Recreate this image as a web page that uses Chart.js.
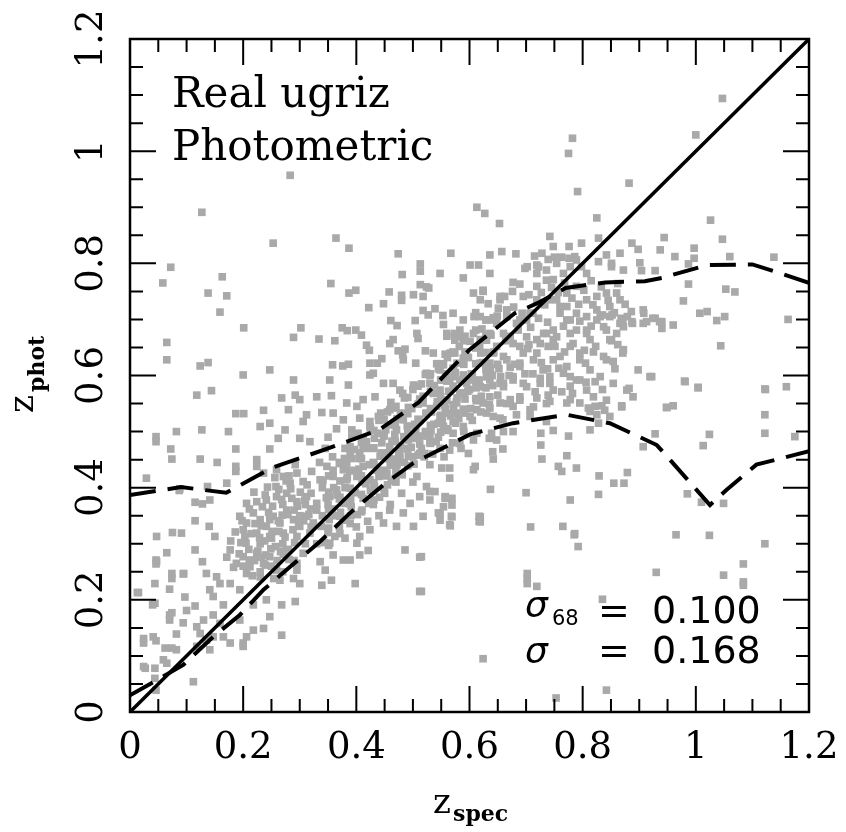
<!DOCTYPE html>
<html>
<head>
<meta charset="utf-8">
<script src="https://cdn.jsdelivr.net/npm/chart.js@4.4.1/dist/chart.umd.min.js"></script>
<style>
  html, body { margin: 0; padding: 0; background: #fff; }
  #wrap { width: 846px; height: 832px; }
</style>
</head>
<body>
<div id="wrap"><canvas id="c"></canvas></div>
<script>
// ---- data (z_spec, z_phot) ----
const tickLabels = ['0', '0.2', '0.4', '0.6', '0.8', '1', '1.2'];
const minorTicks = [0.05,0.1,0.15,0.25,0.3,0.35,0.45,0.5,0.55,0.65,0.7,0.75,0.85,0.9,0.95,1.05,1.1,1.15];
const majorTicks = [0.2,0.4,0.6,0.8,1.0];

// 1:1 line
const diagX = [0, 1.2];
const diagY = [0, 1.2];

// upper 68% envelope (dashed)
const upperX = [0, 0.09, 0.17, 0.25, 0.35, 0.44, 0.51, 0.565, 0.60, 0.68, 0.72, 0.77, 0.84, 0.91, 0.94, 1.02, 1.10, 1.15, 1.2];
const upperY = [0.387, 0.401, 0.391, 0.435, 0.470, 0.503, 0.552, 0.610, 0.646, 0.711, 0.729, 0.756, 0.766, 0.768, 0.774, 0.797, 0.798, 0.782, 0.765];

// lower 68% envelope (dashed)
const lowerX = [0, 0.041, 0.094, 0.147, 0.194, 0.236, 0.283, 0.336, 0.389, 0.448, 0.501, 0.601, 0.677, 0.772, 0.848, 0.931, 0.954, 1.025, 1.054, 1.107, 1.2];
const lowerY = [0.030, 0.053, 0.084, 0.134, 0.173, 0.218, 0.259, 0.304, 0.355, 0.405, 0.444, 0.495, 0.515, 0.530, 0.515, 0.476, 0.450, 0.369, 0.396, 0.441, 0.465];

// galaxies, [z_spec, z_phot]
const galaxies = [
  [0.127,0.891],[0.253,0.836],[0.364,0.845],[0.387,0.827],[0.474,0.817],[0.567,0.818],[0.072,0.793],[0.058,0.765],
  [0.163,0.776],[0.138,0.747],[0.171,0.742],[0.159,0.713],[0.201,0.685],[0.355,0.764],[0.387,0.747],[0.399,0.752],
  [0.481,0.780],[0.513,0.799],[0.513,0.786],[0.589,0.774],[0.422,0.721],[0.448,0.728],[0.458,0.749],[0.480,0.743],
  [0.480,0.734],[0.501,0.744],[0.513,0.762],[0.528,0.756],[0.518,0.741],[0.518,0.716],[0.527,0.708],[0.539,0.719],
  [0.553,0.707],[0.554,0.691],[0.504,0.698],[0.461,0.698],[0.472,0.689],[0.289,0.668],[0.302,0.685],[0.334,0.665],
  [0.362,0.662],[0.375,0.685],[0.384,0.680],[0.399,0.681],[0.409,0.672],[0.418,0.654],[0.423,0.645],[0.065,0.659],
  [0.065,0.628],[0.124,0.617],[0.138,0.623],[0.358,0.619],[0.376,0.617],[0.386,0.620],[0.424,0.622],[0.437,0.622],
  [0.445,0.630],[0.459,0.657],[0.465,0.664],[0.474,0.644],[0.486,0.647],[0.482,0.637],[0.483,0.628],[0.507,0.675],
  [0.509,0.666],[0.522,0.644],[0.505,0.622],[0.557,0.638],[0.560,0.670],[0.574,0.675],[0.583,0.681],[0.592,0.670],
  [0.574,0.663],[0.554,0.619],[0.574,0.640],[0.283,0.957],
  [1.047,1.094],[1.000,1.029],[0.782,1.023],[0.775,0.996],[0.882,0.943],[0.791,0.928],[0.613,0.900],[0.627,0.889],
  [0.653,0.871],[0.825,0.881],[1.026,0.877],[0.944,0.846],[1.047,0.843],[0.742,0.848],[0.828,0.845],
  [0.636,0.815],[0.657,0.821],[0.682,0.817],[0.748,0.830],[0.750,0.811],[0.763,0.811],[0.715,0.813],[0.728,0.818],
  [0.776,0.830],[0.798,0.836],[0.786,0.812],[0.776,0.809],[0.842,0.815],[0.851,0.800],[0.866,0.818],[0.887,0.836],
  [0.898,0.825],[0.901,0.801],[0.937,0.824],[0.963,0.812],[0.997,0.827],[0.997,0.809],[1.060,0.812],[1.138,0.811],
  [0.702,0.794],[0.722,0.794],[0.739,0.807],[0.851,0.794],[0.872,0.788],[0.904,0.787],[0.928,0.787],[0.987,0.799],
  [0.828,0.803],[0.789,0.806],[0.778,0.794],
  [0.987,0.763],[1.053,0.754],[1.069,0.749],[0.978,0.733],[1.007,0.711],[1.020,0.714],[1.037,0.698],[1.051,0.705],
  [1.163,0.700],[1.044,0.653],[0.980,0.590],[1.004,0.578],[1.123,0.575],[1.160,0.580],[0.898,0.610],[0.919,0.598],
  [0.882,0.577],[0.949,0.543],[0.960,0.546],[1.122,0.530],[0.869,0.544],
  [0.835,0.708],[0.852,0.708],[0.868,0.702],[0.886,0.714],[0.908,0.711],[0.913,0.696],[0.924,0.702],[0.936,0.696],
  [0.888,0.693],[0.871,0.693],[0.851,0.662],[0.819,0.642],[0.842,0.628],[0.854,0.625],[0.871,0.640],
  [0.601,0.797],[0.616,0.797],[0.636,0.782],[0.698,0.791],[0.719,0.797],[0.736,0.788],[0.754,0.800],[0.719,0.782],
  [0.748,0.771],[0.766,0.782],[0.677,0.766],[0.689,0.763],[0.676,0.750],[0.624,0.750],[0.619,0.735],[0.654,0.735],
  [0.651,0.720],[0.608,0.705],[0.630,0.699],[0.648,0.693],[0.666,0.705],[0.683,0.693],[0.701,0.699],[0.695,0.741],
  [0.719,0.759],[0.736,0.770],[0.719,0.735],[0.754,0.735],[0.772,0.747],[0.789,0.759],[0.807,0.782],[0.798,0.794],
  [0.772,0.723],[0.789,0.711],[0.807,0.735],[0.825,0.741],[0.842,0.747],[0.860,0.747],[0.866,0.735],[0.848,0.723],
  [0.825,0.717],[0.807,0.705],[0.778,0.699],[0.760,0.711],[0.831,0.705],[0.848,0.705],[0.866,0.693],[0.907,0.717],
  [0.887,0.696],[0.872,0.687],[0.837,0.687],[0.807,0.681],[0.778,0.675],[0.748,0.681],[0.731,0.675],[0.719,0.664],
  [0.748,0.664],[0.778,0.652],[0.813,0.664],[0.848,0.664],[0.872,0.646],[0.837,0.634],[0.795,0.640],[0.760,0.634],
  [0.719,0.640],[0.689,0.652],[0.672,0.670],[0.636,0.675],[0.619,0.664],[0.660,0.634],[0.689,0.622],[0.636,0.622],
  [0.928,0.702],[0.940,0.696],[0.907,0.693],[0.940,0.684],[0.960,0.690],
  [0.742,0.735],[0.760,0.723],[0.772,0.699],[0.789,0.681],[0.754,0.669],[0.783,0.657],[0.807,0.675],[0.825,0.699],
  [0.842,0.681],[0.860,0.675],[0.795,0.628],[0.813,0.610],[0.831,0.598],[0.854,0.586],[0.878,0.574],[0.889,0.562],
  [0.842,0.556],[0.819,0.562],[0.789,0.592],[0.766,0.604],[0.748,0.628],
  [0.524,0.758],[0.548,0.782],[0.607,0.747],[0.624,0.752],[0.654,0.741],[0.571,0.711],[0.589,0.699],[0.619,0.705],
  [0.642,0.699],[0.666,0.717],[0.689,0.699],[0.707,0.711],[0.560,0.675],[0.583,0.669],[0.607,0.675],[0.630,0.663],
  [0.660,0.675],[0.677,0.657],[0.701,0.669],[0.725,0.657],[0.736,0.675],[0.536,0.640],[0.566,0.640],[0.595,0.634],
  [0.619,0.622],[0.642,0.640],[0.666,0.628],[0.689,0.616],[0.713,0.628],[0.730,0.610],[0.524,0.604],[0.548,0.610],
  [0.571,0.598],[0.601,0.592],[0.630,0.598],[0.654,0.586],[0.677,0.592],[0.701,0.580],[0.725,0.586],[0.748,0.574],
  [0.536,0.568],[0.560,0.556],[0.583,0.568],[0.613,0.556],[0.636,0.562],[0.666,0.550],[0.689,0.556],[0.713,0.544],
  [0.736,0.550],[0.524,0.533],[0.548,0.527],[0.577,0.533],[0.601,0.527],[0.630,0.533],[0.654,0.524],[0.683,0.530],
  [0.707,0.527],
  [0.200,0.601],[0.247,0.610],[0.289,0.592],[0.118,0.565],[0.144,0.573],[0.187,0.532],[0.201,0.532],[0.236,0.538],
  [0.268,0.560],[0.292,0.565],[0.300,0.557],[0.330,0.562],[0.356,0.564],[0.353,0.592],[0.386,0.583],[0.424,0.601],
  [0.430,0.604],[0.280,0.539],[0.306,0.518],[0.312,0.530],[0.339,0.534],[0.359,0.533],[0.383,0.551],[0.401,0.545],
  [0.412,0.557],[0.433,0.562],[0.448,0.586],[0.465,0.586],[0.477,0.574],[0.082,0.500],[0.127,0.503],[0.174,0.500],
  [0.046,0.491],[0.046,0.482],[0.072,0.469],[0.074,0.451],[0.124,0.451],[0.154,0.445],[0.187,0.469],[0.187,0.438],
  [0.187,0.429],[0.230,0.509],[0.247,0.515],[0.262,0.488],[0.274,0.503],[0.300,0.488],[0.318,0.482],[0.247,0.469],
  [0.224,0.450],[0.224,0.438],[0.236,0.426],[0.029,0.417],[0.087,0.395],[0.137,0.402],[0.171,0.408],[0.115,0.374],
  [0.128,0.371],[0.141,0.378],[0.115,0.341],[0.140,0.331],[0.075,0.320],[0.091,0.319],[0.047,0.313],[0.150,0.313],
  [0.194,0.349],[0.206,0.337],[0.218,0.355],[0.230,0.343],[0.241,0.331],[0.253,0.349],[0.265,0.337],[0.277,0.360],
  [0.289,0.343],[0.300,0.331],[0.312,0.349],[0.324,0.337],[0.200,0.325],[0.224,0.319],[0.247,0.313],[0.271,0.319],
  [0.295,0.313],[0.318,0.319],[0.206,0.372],[0.224,0.375],[0.241,0.378],[0.259,0.384],[0.277,0.390],[0.295,0.375],
  [0.312,0.384],[0.330,0.372],[0.259,0.432],[0.271,0.420],[0.283,0.408],[0.295,0.426],[0.306,0.411],[0.321,0.429],
  [0.336,0.414],[0.348,0.438],[0.359,0.420],[0.365,0.396],[0.353,0.384],[0.377,0.432],
  [0.507,0.420],[0.530,0.441],[0.551,0.435],[0.565,0.417],[0.565,0.435],[0.539,0.393],[0.530,0.378],[0.557,0.384],
  [0.554,0.366],[0.545,0.355],[0.568,0.349],[0.565,0.334],[0.501,0.331],[0.471,0.331],[0.448,0.337],[0.424,0.325],
  [0.406,0.313],[0.518,0.349],[0.483,0.355],[0.459,0.360],[0.512,0.384],[0.495,0.372],
  [0.377,0.521],[0.392,0.503],[0.406,0.524],[0.412,0.488],[0.424,0.509],[0.439,0.527],[0.448,0.494],[0.430,0.470],
  [0.406,0.462],[0.389,0.473],[0.383,0.444],[0.412,0.438],[0.442,0.456],[0.459,0.473],[0.471,0.503],[0.483,0.521],
  [0.459,0.539],[0.492,0.485],[0.477,0.450],[0.454,0.426],[0.424,0.414],[0.401,0.420],[0.383,0.414],
  [0.530,0.586],[0.548,0.574],[0.565,0.592],[0.583,0.568],[0.595,0.586],[0.518,0.551],[0.542,0.545],[0.560,0.533],
  [0.577,0.551],[0.592,0.533],[0.554,0.509],[0.571,0.497],[0.589,0.509],[0.583,0.479],[0.565,0.467],[0.598,0.461],
  [0.530,0.491],[0.512,0.461],[0.501,0.491],
  [0.065,0.284],[0.115,0.289],[0.046,0.271],[0.046,0.264],[0.128,0.268],[0.074,0.247],[0.074,0.238],[0.095,0.247],
  [0.015,0.213],[0.070,0.219],[0.040,0.191],[0.097,0.205],[0.115,0.189],[0.100,0.181],[0.070,0.173],[0.070,0.164],
  [0.074,0.177],[0.094,0.159],[0.082,0.139],[0.024,0.131],[0.024,0.123],[0.041,0.134],[0.046,0.127],[0.062,0.114],
  [0.074,0.114],[0.082,0.111],[0.059,0.093],[0.065,0.087],[0.024,0.081],[0.027,0.078],[0.044,0.078],[0.044,0.060],
  [0.046,0.039],[0.112,0.054],[0.135,0.247],[0.153,0.241],[0.159,0.229],[0.141,0.218],[0.147,0.206],[0.165,0.191],
  [0.130,0.164],[0.147,0.173],[0.118,0.152],[0.124,0.140],[0.135,0.128],[0.141,0.111],[0.118,0.117],[0.147,0.134],
  [0.177,0.289],[0.188,0.265],[0.200,0.277],[0.212,0.259],[0.224,0.283],[0.236,0.265],[0.247,0.277],[0.259,0.253],
  [0.206,0.247],[0.230,0.241],[0.177,0.229],[0.194,0.218],[0.265,0.235],[0.277,0.289],[0.295,0.265],[0.306,0.283],
  [0.159,0.158],[0.194,0.164],[0.206,0.134],[0.177,0.123],[0.200,0.117],[0.165,0.134],
  [0.218,0.191],[0.241,0.200],[0.247,0.170],[0.236,0.149],[0.268,0.191],[0.268,0.137],[0.218,0.146],[0.200,0.123],
  [0.295,0.253],[0.289,0.238],[0.300,0.229],[0.292,0.197],[0.336,0.268],[0.345,0.253],[0.356,0.235],[0.339,0.226],
  [0.398,0.229],[0.406,0.280],[0.421,0.288],[0.486,0.289],[0.512,0.276],[0.512,0.215],[0.377,0.271],[0.389,0.271],
  [0.359,0.280],[0.353,0.301],[0.401,0.301],
  [0.792,0.295],[1.122,0.300],[1.084,0.264],[0.930,0.249],[1.049,0.244],[0.702,0.247],[0.702,0.238],[0.702,0.229],
  [0.719,0.224],[1.084,0.232],[1.084,0.226],[0.835,0.201],[0.624,0.095],[0.753,0.025],[0.842,0.039],
  [0.981,0.589],[1.004,0.579],[1.122,0.576],[0.922,0.598],[0.948,0.543],[0.869,0.546],[1.122,0.497],[1.175,0.491],
  [1.024,0.495],[0.928,0.496],[0.907,0.473],[1.013,0.475],[0.879,0.427],[0.855,0.408],[0.873,0.408],[0.829,0.421],
  [0.828,0.388],[0.778,0.378],[0.789,0.435],[0.757,0.438],[0.763,0.429],[0.772,0.457],[0.728,0.451],[0.726,0.476],
  [0.700,0.391],[0.637,0.397],[0.617,0.349],[0.617,0.340],[0.708,0.330],[0.765,0.331],[0.786,0.318],[0.965,0.316],
  [1.024,0.315],[0.985,0.389],[1.010,0.374],[1.049,0.372],[0.610,0.438],[0.607,0.432],[0.641,0.464],[0.642,0.451],
  [0.659,0.469],[0.635,0.488],[0.648,0.485],[0.659,0.521],[0.642,0.527],[0.707,0.539],[0.719,0.560],[0.742,0.554],
  [0.739,0.565],[0.763,0.571],[0.778,0.581],[0.772,0.551],[0.778,0.557],[0.795,0.551],[0.810,0.542],[0.822,0.545],
  [0.834,0.546],[0.839,0.538],[0.825,0.530],[0.813,0.536],[0.848,0.527],[0.813,0.503],[0.828,0.515],[0.748,0.502],
  [0.775,0.492],[0.736,0.518],[0.726,0.497],[0.807,0.574],[0.822,0.589],[0.778,0.598],[0.795,0.592],[0.742,0.586],
  [0.725,0.595],[0.695,0.586],[0.677,0.598],[0.660,0.586],[0.636,0.592],[0.619,0.580],[0.624,0.551],[0.613,0.539],
  [0.636,0.542],[0.654,0.551],[0.672,0.557],[0.689,0.562],[0.677,0.545],[0.639,0.497],[0.660,0.500],[0.677,0.500],
  [0.607,0.485],[0.613,0.497],
  [0.515,0.277],[0.515,0.215],[0.548,0.354],[0.548,0.342],[0.569,0.348],[0.566,0.332],[0.557,0.381],[0.530,0.393],
  [0.524,0.402],[0.569,0.381],[0.569,0.369],[0.619,0.348],[0.619,0.339],[0.785,0.316],
  [0.047,0.268],[0.094,0.246],[0.044,0.229],[0.013,0.213],[0.044,0.194],[0.088,0.398],
  [0.405,0.452],[0.418,0.470],[0.430,0.445],[0.445,0.480],[0.455,0.462],[0.468,0.495],[0.478,0.475],[0.490,0.510],
  [0.500,0.488],[0.512,0.520],[0.522,0.500],[0.533,0.535],[0.545,0.515],[0.556,0.548],[0.567,0.528],[0.578,0.560],
  [0.590,0.540],[0.600,0.575],[0.612,0.555],[0.425,0.505],[0.440,0.520],[0.455,0.535],[0.470,0.545],[0.485,0.560],
  [0.500,0.575],[0.515,0.585],[0.530,0.600],[0.545,0.612],[0.560,0.590],[0.575,0.605],[0.590,0.620],[0.605,0.600],
  [0.620,0.640],[0.470,0.430],[0.485,0.445],[0.500,0.455],[0.515,0.470],[0.530,0.480],[0.545,0.490],[0.560,0.505],
  [0.575,0.515],[0.590,0.500],[0.605,0.520],[0.620,0.535],[0.635,0.548],[0.650,0.565],[0.660,0.580],[0.640,0.600],
  [0.650,0.620],[0.670,0.600],[0.680,0.620],[0.695,0.640],[0.380,0.470],[0.392,0.490],[0.370,0.445],[0.358,0.455],
  [0.345,0.470],[0.335,0.445],[0.350,0.490],[0.365,0.505],[0.395,0.430],[0.410,0.410],[0.425,0.395],[0.440,0.420],
  [0.455,0.405],[0.460,0.440],[0.475,0.460],[0.490,0.470],[0.505,0.500],[0.520,0.455],[0.535,0.460],[0.548,0.470],
  [0.555,0.455],[0.570,0.480],[0.585,0.470],
  [0.210,0.290],[0.230,0.300],[0.250,0.310],[0.270,0.300],[0.240,0.280],[0.260,0.270],[0.280,0.290],[0.220,0.270],
  [0.200,0.260],[0.230,0.250],[0.250,0.260],[0.270,0.250],[0.290,0.270],[0.310,0.300],[0.320,0.330],[0.300,0.350],
  [0.330,0.360],[0.350,0.370],[0.340,0.350],[0.360,0.350],[0.370,0.380],[0.380,0.400],[0.390,0.380],[0.360,0.400],
  [0.340,0.400],[0.320,0.390],[0.310,0.370],[0.290,0.360],[0.270,0.370],
  [0.330,0.300],[0.350,0.320],[0.370,0.330],[0.390,0.350],[0.410,0.360],[0.430,0.370],[0.450,0.390],[0.420,0.340],
  [0.400,0.330],[0.380,0.310],[0.440,0.350],[0.460,0.370],[0.480,0.390],[0.500,0.410],[0.470,0.410],
  // dense core along the diagonal
  [0.343,0.302],[0.338,0.331],[0.347,0.382],[0.341,0.413],[0.362,0.313],[0.357,0.362],[0.366,0.387],[0.359,0.431],
  [0.381,0.342],[0.377,0.372],[0.384,0.418],[0.379,0.452],[0.402,0.352],[0.398,0.391],[0.404,0.433],[0.397,0.468],
  [0.403,0.497],[0.422,0.372],[0.417,0.407],[0.423,0.441],[0.418,0.482],[0.424,0.518],[0.441,0.383],[0.437,0.431],
  [0.444,0.462],[0.438,0.497],[0.443,0.533],[0.462,0.412],[0.458,0.451],[0.463,0.483],[0.457,0.512],[0.461,0.552],
  [0.481,0.423],[0.477,0.462],[0.484,0.491],[0.478,0.533],[0.482,0.568],[0.502,0.442],[0.497,0.472],[0.503,0.513],
  [0.498,0.541],[0.501,0.583],[0.521,0.461],[0.517,0.492],[0.523,0.532],[0.518,0.563],[0.522,0.602],[0.541,0.482],
  [0.537,0.513],[0.543,0.553],[0.538,0.582],[0.542,0.621],[0.562,0.502],[0.557,0.541],[0.563,0.572],[0.558,0.603],
  [0.561,0.632],[0.581,0.523],[0.577,0.553],[0.583,0.592],[0.578,0.622],[0.582,0.652],[0.602,0.541],[0.597,0.572],
  [0.603,0.603],[0.598,0.632],[0.601,0.661],[0.621,0.563],[0.617,0.592],[0.623,0.623],[0.618,0.652],[0.622,0.683],
  [0.641,0.582],[0.637,0.613],[0.643,0.642],[0.638,0.672],[0.642,0.703],[0.352,0.343],[0.372,0.356],[0.391,0.366],
  [0.412,0.381],[0.432,0.402],[0.452,0.421],[0.472,0.441],[0.492,0.456],[0.512,0.478],[0.532,0.502],[0.552,0.522],
  [0.572,0.537],[0.592,0.558],[0.612,0.578],[0.632,0.598],[0.652,0.612],[0.392,0.452],[0.412,0.472],[0.432,0.488],
  [0.452,0.503],[0.472,0.523],[0.492,0.543],[0.512,0.558],[0.532,0.572],[0.552,0.592],[0.572,0.612],[0.592,0.642],
  [0.351,0.297],[0.351,0.328],[0.351,0.361],[0.351,0.392],[0.351,0.421],[0.371,0.318],[0.371,0.349],[0.371,0.383],
  [0.371,0.412],[0.371,0.443],[0.389,0.336],[0.389,0.371],[0.389,0.399],[0.389,0.431],[0.389,0.462],[0.409,0.357],
  [0.409,0.388],[0.409,0.421],[0.409,0.452],[0.409,0.481],[0.431,0.378],[0.431,0.409],[0.431,0.442],[0.431,0.471],
  [0.431,0.502],[0.449,0.398],[0.449,0.431],[0.449,0.459],[0.449,0.492],[0.449,0.521],[0.469,0.417],[0.469,0.451],
  [0.469,0.482],[0.469,0.511],[0.469,0.542],[0.491,0.439],[0.491,0.469],[0.491,0.501],[0.491,0.532],[0.491,0.561],
  [0.509,0.458],[0.509,0.491],[0.509,0.522],[0.509,0.549],[0.509,0.581],[0.531,0.479],[0.531,0.511],[0.531,0.541],
  [0.531,0.571],[0.531,0.603],[0.549,0.499],[0.549,0.529],[0.549,0.562],[0.549,0.592],[0.549,0.621],[0.571,0.518],
  [0.571,0.548],[0.571,0.581],[0.571,0.613],[0.571,0.642],[0.589,0.537],[0.589,0.569],[0.589,0.601],[0.589,0.631],
  [0.589,0.662],[0.611,0.559],[0.611,0.589],[0.611,0.621],[0.611,0.649],[0.611,0.681],[0.629,0.578],[0.629,0.611],
  [0.629,0.641],[0.629,0.671],[0.629,0.699],
  // blob left of the diagonal
  [0.193,0.282],[0.205,0.301],[0.214,0.318],[0.226,0.287],[0.232,0.332],[0.238,0.305],[0.245,0.356],[0.251,0.322],
  [0.257,0.295],[0.262,0.341],[0.268,0.379],[0.274,0.312],[0.279,0.352],[0.284,0.398],[0.288,0.325],[0.296,0.367],
  [0.301,0.392],[0.307,0.341],[0.313,0.405],[0.319,0.362],[0.198,0.341],[0.211,0.362],[0.219,0.392],[0.234,0.366],
  [0.243,0.401],[0.256,0.418],[0.263,0.397],[0.281,0.421],[0.292,0.441],[0.216,0.243],[0.239,0.262],[0.254,0.238],
  [0.281,0.272],[0.266,0.286],[0.183,0.258],[0.178,0.305],[0.171,0.276],[0.186,0.321],
  [0.203,0.313],[0.221,0.336],[0.229,0.311],[0.247,0.343],[0.252,0.367],[0.263,0.322],[0.269,0.351],[0.286,0.381],
  [0.291,0.302],[0.298,0.338],[0.309,0.378],[0.316,0.352],[0.239,0.387],[0.258,0.402],[0.276,0.412],[0.232,0.276],
  [0.249,0.291],[0.271,0.281],[0.211,0.271],[0.196,0.302],
  // cluster under the upper envelope near z_spec 0.8
  [0.705,0.744],[0.727,0.748],[0.733,0.726],[0.745,0.757],[0.757,0.748],[0.768,0.765],[0.781,0.738],[0.793,0.727],
  [0.802,0.752],[0.815,0.769],[0.818,0.726],[0.833,0.758],[0.845,0.734],[0.856,0.712],[0.862,0.764],[0.875,0.727],
  [0.879,0.705],[0.712,0.711],[0.738,0.695],[0.766,0.688],[0.795,0.697],[0.815,0.688],[0.823,0.652],[0.803,0.645],
  [0.768,0.642],[0.739,0.652],[0.705,0.655],[0.712,0.603],[0.738,0.612],[0.772,0.616],[0.805,0.622],[0.862,0.655],
  [0.857,0.612],[0.835,0.575],[0.806,0.588],[0.782,0.568],
  [0.611,0.712],[0.633,0.728],[0.649,0.706],[0.662,0.741],[0.678,0.722],[0.693,0.711],[0.708,0.686],[0.722,0.702],
  [0.686,0.681],[0.664,0.662],[0.648,0.652],[0.703,0.648],[0.727,0.623],[0.751,0.652],[0.758,0.613],[0.742,0.598],
  [0.716,0.571],[0.698,0.603],[0.672,0.615],[0.655,0.598]
];

const labelFont = '"DejaVu Serif", serif';
const sansFont = '"DejaVu Sans", sans-serif';

function toXY(xs, ys) {
  return xs.map((v, i) => ({ x: v, y: ys[i] }));
}

// frame, inside ticks on all four sides, annotation text, axis titles
const decor = {
  id: 'decor',
  afterDatasetsDraw(chart) {
    const { ctx, chartArea: a, scales: { x, y } } = chart;
    ctx.save();
    ctx.strokeStyle = '#000';
    ctx.lineWidth = 2;
    const tick = (v, len) => {
      const px = x.getPixelForValue(v), py = y.getPixelForValue(v);
      ctx.beginPath();
      ctx.moveTo(px, a.bottom); ctx.lineTo(px, a.bottom - len);
      ctx.moveTo(px, a.top); ctx.lineTo(px, a.top + len);
      ctx.moveTo(a.left, py); ctx.lineTo(a.left + len, py);
      ctx.moveTo(a.right, py); ctx.lineTo(a.right - len, py);
      ctx.stroke();
    };
    majorTicks.forEach(v => tick(v, 26));
    minorTicks.forEach(v => tick(v, 13));
    ctx.lineWidth = 2.5;
    ctx.strokeRect(a.left, a.top, a.right - a.left, a.bottom - a.top);

    ctx.fillStyle = '#000';
    ctx.textAlign = 'left';
    ctx.textBaseline = 'alphabetic';
    ctx.font = '42px ' + labelFont;
    ctx.fillText('Real ugriz', a.left + 42, a.top + 68);
    ctx.fillText('Photometric', a.left + 42, a.top + 121);

    // sigma block
    const sx = a.left + 395, b1 = a.top + 584, b2 = a.top + 624;
    ctx.font = 'italic 36px ' + sansFont;
    ctx.fillText('\u03c3', sx, b1 - 6);
    ctx.fillText('\u03c3', sx, b2);
    ctx.font = '38px ' + sansFont;
    ctx.fillText('=', sx + 73, b1);
    ctx.fillText('=', sx + 73, b2);
    ctx.fillText('0.100', sx + 127, b1);
    ctx.fillText('0.168', sx + 127, b2);
    ctx.font = '21px ' + sansFont;
    ctx.fillText('68', sx + 27, b1 + 2);

    // x title: z_spec
    ctx.font = '34px ' + labelFont;
    ctx.fillText('z', 433, 813);
    ctx.font = 'bold 22px ' + labelFont;
    ctx.fillText('spec', 453, 821);

    // y title: z_phot (rotated)
    ctx.translate(33, 413);
    ctx.rotate(-Math.PI / 2);
    ctx.font = '34px ' + labelFont;
    ctx.fillText('z', 0, 0);
    ctx.font = 'bold 22px ' + labelFont;
    ctx.fillText('phot', 21, 11);
    ctx.restore();
  }
};

const tickCallback = v => tickLabels[Math.round(v / 0.2)];

new Chart(document.getElementById('c'), {
  type: 'scatter',
  data: {
    datasets: [
      {
        data: toXY(diagX, diagY),
        showLine: true, borderColor: '#000', borderWidth: 3.5,
        pointRadius: 0, order: 1
      },
      {
        data: toXY(upperX, upperY),
        showLine: true, borderColor: '#000', borderWidth: 4, borderDash: [26, 12],
        pointRadius: 0, order: 1
      },
      {
        data: toXY(lowerX, lowerY),
        showLine: true, borderColor: '#000', borderWidth: 4, borderDash: [26, 12],
        pointRadius: 0, order: 1
      },
      {
        data: galaxies.map(p => ({ x: p[0], y: p[1] })),
        pointStyle: 'rect', pointRadius: 5.4, borderWidth: 0,
        backgroundColor: '#a9a9a9', order: 3
      }
    ]
  },
  options: {
    responsive: true,
    maintainAspectRatio: false,
    animation: false,
    layout: { padding: { top: 39, right: 37, left: 0, bottom: 0 } },
    plugins: { legend: { display: false }, tooltip: { enabled: false } },
    scales: {
      x: {
        type: 'linear', min: 0, max: 1.2,
        grid: { display: false, drawTicks: false },
        border: { display: false },
        ticks: { stepSize: 0.2, maxRotation: 0, padding: 14, color: '#000',
                 font: { family: labelFont, size: 37 }, callback: tickCallback },
        afterFit: s => { s.height = 120; s.paddingLeft = 0; s.paddingRight = 0; }
      },
      y: {
        type: 'linear', min: 0, max: 1.2,
        grid: { display: false, drawTicks: false },
        border: { display: false },
        ticks: { stepSize: 0.2, minRotation: 90, maxRotation: 90, crossAlign: 'center', padding: 8,
                 color: '#000', font: { family: labelFont, size: 37 }, callback: tickCallback },
        afterFit: s => { s.width = 130; s.paddingTop = 0; s.paddingBottom = 0; }
      }
    }
  },
  plugins: [decor]
});
</script>
</body>
</html>
